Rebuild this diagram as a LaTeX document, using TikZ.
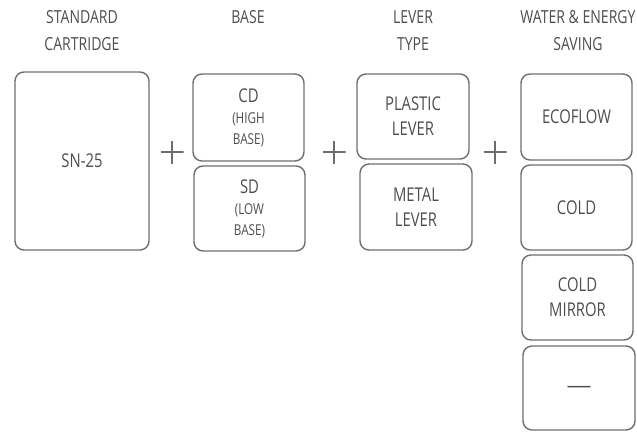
\documentclass[tikz,border=0pt]{standalone}
\usepackage{fontspec}
\setmainfont[FakeStretch=0.78]{Open Sans}
\usepackage{tikz}
\usetikzlibrary{positioning}
\definecolor{frame}{HTML}{6E6E6E}
\definecolor{ink}{HTML}{4E4E4E}
\newcommand{\paren}[1]{{\fontsize{15}{18}\selectfont #1}}

\begin{document}
\begin{tikzpicture}[x=1pt, y=-1pt,
  optbox/.style = {draw=frame, line width=1.4pt, rounded corners=9pt, inner sep=0pt, align=center, font=\fontsize{19}{25}\selectfont, text=ink},
  head/.style   = {align=center, font=\fontsize{18}{27}\selectfont, text=ink},
  plus/.style   = {minimum size=23pt, inner sep=0pt, path picture={
      \draw[frame, line width=1.3pt] (path picture bounding box.west) -- (path picture bounding box.east)
        (path picture bounding box.north) -- (path picture bounding box.south);}},
]
\useasboundingbox (0,0) rectangle (637,432);
% column headings
\node[head] (hcart)  at (82, 31)  {STANDARD\\CARTRIDGE};
\node[head] (hbase)  at (248, 17) {BASE};
\node[head] (hlever) at (413, 31) {LEVER\\TYPE};
\node[head] (hsave)  at (578, 31) {WATER \& ENERGY\\SAVING};
% cartridge
\node[optbox, minimum width=134pt, minimum height=178pt] (sn) at (82, 161) {SN-25};
% base
\node[optbox, minimum width=111pt, minimum height=87pt] (cd) at (248.5, 117.5) {CD\\[-4pt]\paren{(HIGH}\\[-4pt]\paren{BASE)}};
\node[optbox, minimum width=111pt, minimum height=85pt] (sd) at (249.5, 208.5) {SD\\[-4pt]\paren{(LOW}\\[-4pt]\paren{BASE)}};
% lever
\node[optbox, minimum width=112pt, minimum height=85pt] (plastic) at (413, 116.5) {PLASTIC\\LEVER};
\node[optbox, minimum width=112pt, minimum height=86pt] (metal) at (416, 207) {METAL\\LEVER};
% saving
\node[optbox, minimum width=111pt, minimum height=86pt] (eco) at (576.5, 117) {ECOFLOW};
\node[optbox, minimum width=111pt, minimum height=85pt] (cold) at (576.5, 207.5) {COLD};
\node[optbox, minimum width=111pt, minimum height=85pt] (mirror) at (577.5, 297.5) {COLD\\MIRROR};
\node[optbox, minimum width=112pt, minimum height=84pt, text height=0pt, text depth=0pt] (none) at (579, 388) {\raisebox{-4pt}{\scalebox{1.6}[1]{\fontsize{20}{20}\selectfont —}}};
% plus signs
\node[plus] (p1) at (172, 152) {};
\node[plus] (p2) at (334, 152) {};
\node[plus] (p3) at (495, 152) {};
\end{tikzpicture}
\end{document}
